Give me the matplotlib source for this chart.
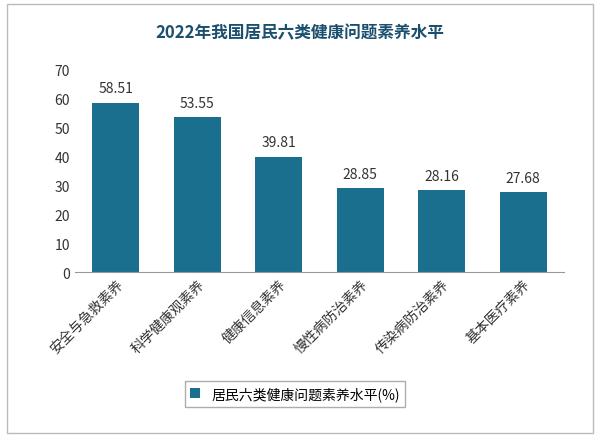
import matplotlib
matplotlib.use("Agg")
import matplotlib.pyplot as plt
from matplotlib import font_manager as fm
from matplotlib.patches import Rectangle

categories = ["安全与急救素养", "科学健康观素养", "健康信息素养", "慢性病防治素养", "传染病防治素养", "基本医疗素养"]
values = [58.51, 53.55, 39.81, 28.85, 28.16, 27.68]
yticks = [0, 10, 20, 30, 40, 50, 60, 70]

cjk = None
for f in fm.findSystemFonts():
    if "CJK" in f and ("Regular" in f or "cjk" in f.lower()):
        cjk = f
        if "SC" in f or "Regular" in f:
            break
if cjk:
    fm.fontManager.addfont(cjk)
    name = fm.FontProperties(fname=cjk).get_name()
else:
    name = "Noto Sans CJK SC"
plt.rcParams["font.family"] = [name, "DejaVu Sans"]

fig = plt.figure(figsize=(6, 4.39), dpi=100)
fig.patches.append(Rectangle((0.012, 0.012), 0.976, 0.976, transform=fig.transFigure,
                             fill=False, edgecolor="#bbbbbb", linewidth=1.0))
ax = fig.add_axes([0.125, 0.378, 0.815, 0.462])
color = "#1b6f8e"
x = range(len(categories))
bars = ax.bar(x, values, width=0.58, color=color)
for xi, v in zip(x, values):
    ax.text(xi, v + 2.5, f"{v:.2f}", ha="center", va="bottom", fontsize=10, color="#333333")
ax.set_ylim(0, 70)
ax.set_yticks(yticks)
ax.set_xlim(-0.5, len(categories) - 0.5)
ax.set_xticks(list(x))
ax.set_xticklabels(categories, rotation=45, ha="right", rotation_mode="anchor", fontsize=10)
ax.tick_params(axis="both", length=0, labelsize=10, colors="#333333")
for s in ["top", "right", "left"]:
    ax.spines[s].set_visible(False)
ax.spines["bottom"].set_color("#999999")
fig.text(0.5, 0.925, "2022年我国居民六类健康问题素养水平", ha="center", va="center",
         fontsize=12, fontweight="bold", color="#1a4f6e")
ax.legend([bars], ["居民六类健康问题素养水平(%)"], loc="center", bbox_to_anchor=(0.45, -0.6),
          frameon=True, edgecolor="#999999", fancybox=False, fontsize=10, handlelength=0.7,
          handleheight=0.7)
fig.savefig("out.png", dpi=100)
